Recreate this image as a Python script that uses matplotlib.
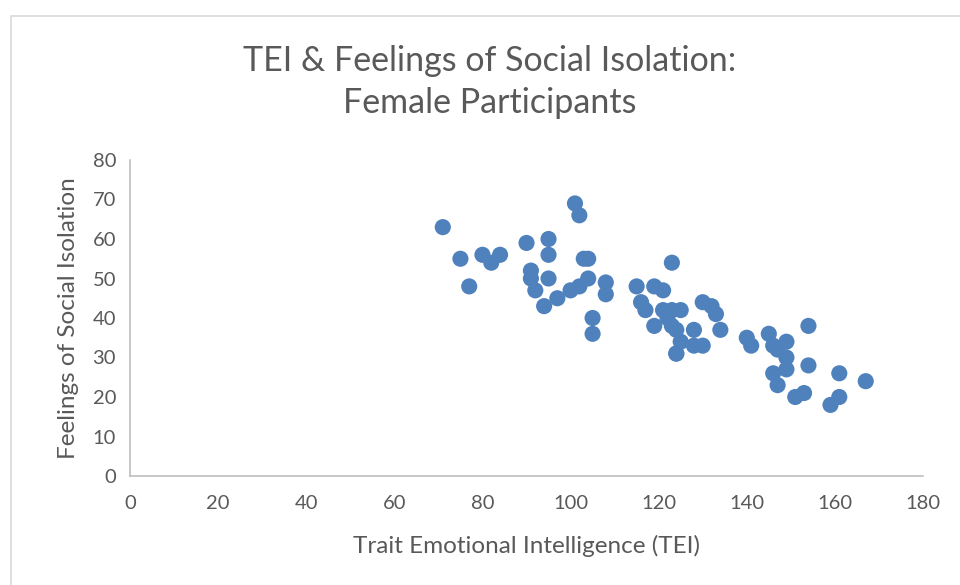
import matplotlib.pyplot as plt
from matplotlib.patches import Rectangle

plt.rcParams["font.family"] = ["Lato", "DejaVu Sans"]

# TEI score and social isolation score per participant
tei = [71, 75, 77, 80, 82, 84, 90, 91, 91, 92, 94, 95, 95, 95, 97, 100, 102,
       101, 102, 103, 104, 104, 105, 105, 108, 108, 115, 123, 119, 121, 116,
       117, 119, 124, 121, 123, 125, 122, 123, 124, 125, 124, 128, 128, 130,
       130, 132, 133, 134, 140, 141, 145, 146, 147, 149, 149, 149, 146, 147,
       154, 154, 151, 153, 161, 161, 159, 167]
isolation = [63, 55, 48, 56, 54, 56, 59, 52, 50, 47, 43, 60, 56, 50, 45, 47, 48,
             69, 66, 55, 55, 50, 40, 36, 49, 46, 48, 54, 48, 47, 44,
             42, 38, 31, 42, 42, 42, 40, 38, 37, 34, 31, 37, 33, 33,
             44, 43, 41, 37, 35, 33, 36, 33, 32, 34, 30, 27, 26, 23,
             38, 28, 20, 21, 26, 20, 18, 24]

x_ticks = list(range(0, 181, 20))
y_ticks = list(range(0, 81, 10))

text_color = "#595959"
axis_color = "#BFBFBF"

fig = plt.figure(figsize=(9.6, 5.85), dpi=100)
ax = fig.add_axes([130 / 960, 1 - 476 / 585, 793 / 960, 316 / 585])

ax.scatter(tei, isolation, s=135, color="#4F81BD", edgecolors="none", zorder=3)

ax.set_xlim(0, 180)
ax.set_ylim(0, 80)
ax.set_xticks(x_ticks)
ax.set_yticks(y_ticks)
ax.tick_params(length=0, labelsize=14.5, colors=text_color, pad=14)
ax.tick_params(axis="y", pad=10)

for side in ["top", "right"]:
    ax.spines[side].set_visible(False)
for side in ["left", "bottom"]:
    ax.spines[side].set_color(axis_color)
    ax.spines[side].set_linewidth(1.2)

ax.set_xlabel("Trait Emotional Intelligence (TEI)", fontsize=17.5, color=text_color, labelpad=16)
ax.set_ylabel("Feelings of Social Isolation", fontsize=17.5, color=text_color, labelpad=10)

fig.text(490 / 960, 1 - 82 / 585, "TEI & Feelings of Social Isolation:\nFemale Participants",
         ha="center", va="center", fontsize=24.5, color=text_color, linespacing=1.4)

# outer chart frame
fig.patches.append(Rectangle((11 / 960, -0.1), 1.2, 1 - 16 / 585 + 0.1, transform=fig.transFigure,
                             fill=False, edgecolor="#D9D9D9", linewidth=1.2))

fig.savefig("out.png", dpi=100)
